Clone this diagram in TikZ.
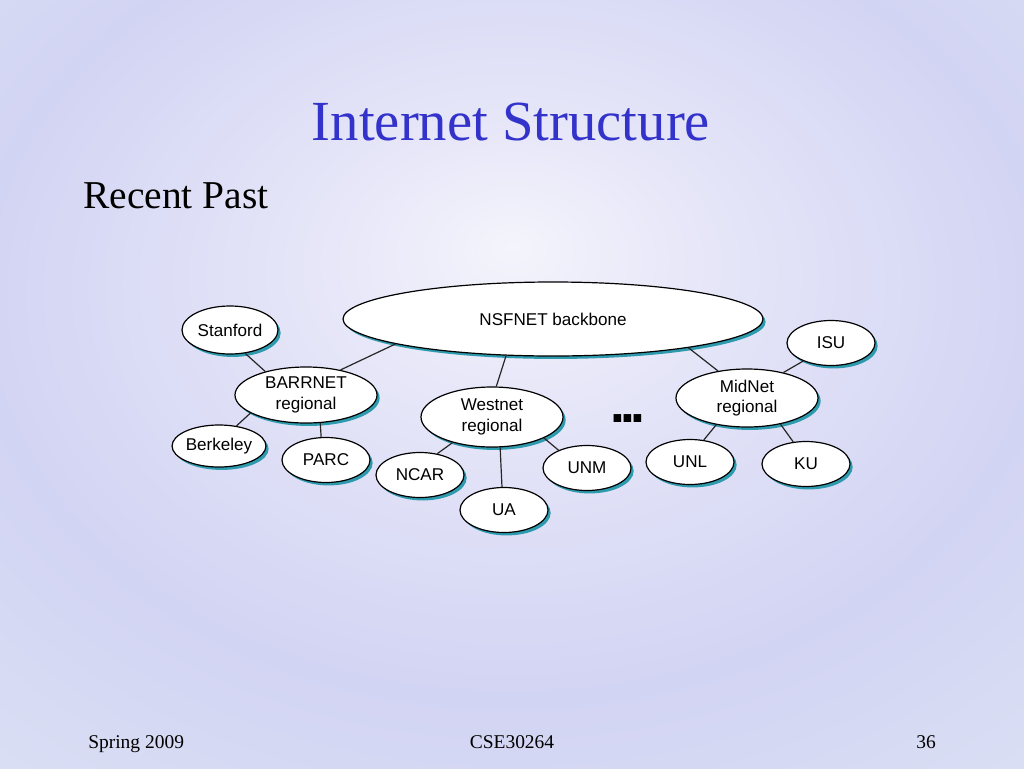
\documentclass[tikz,border=0pt]{standalone}
\usepackage{fontspec}
\setmainfont{Liberation Serif}
\newfontfamily\arialf{Liberation Sans}
\usetikzlibrary{shapes.geometric,shadows}
\definecolor{titleblue}{HTML}{3333CC}
\definecolor{shadowc}{HTML}{2E9AAE}
\definecolor{bgA}{HTML}{F4F4FC}
\definecolor{bgB}{HTML}{E8E8F9}
\definecolor{bgC}{HTML}{D2D4F3}
\definecolor{bgD}{HTML}{DEE4F4}
\definecolor{bgE}{HTML}{EAF6F2}
\pgfdeclareradialshading{slidebg}{\pgfpoint{0bp}{9bp}}{color(0bp)=(bgA); color(8bp)=(bgB); color(26bp)=(bgC); color(45bp)=(bgD); color(68bp)=(bgE)}
\newcommand{\nodefont}{\arialf\fontsize{12.8}{15.5}\selectfont}
\tikzset{
  bub/.style 2 args={ellipse, draw=black, line width=0.9pt, fill=white,
    minimum width={#1*0.75pt}, minimum height={#2*0.75pt}, inner sep=0pt,
    align=center, font=\nodefont,
    drop shadow={shadow xshift=2pt, shadow yshift=-2.2pt, fill=shadowc, opacity=1}},
  edge/.style={line width=0.9pt, draw=black!85},
  footer/.style={font=\fontsize{14.6}{17}\selectfont, text=black}
}
\begin{document}
\begin{tikzpicture}[x=0.75pt,y=-0.75pt]
\useasboundingbox (0,0) rectangle (1024,768);
\shade[shading=slidebg] (0,0) rectangle (1024,768);

\node[anchor=base, text=titleblue, font=\fontsize{42.5}{50}\selectfont] (title) at (511,140) {Internet Structure};
\node[anchor=base west, inner sep=0pt, font=\fontsize{29.6}{35}\selectfont] (sub) at (83,208) {Recent Past};

\node[bub={420}{74}] (nsf) at (553,319) {NSFNET backbone};
\node[bub={96}{48}] (stan) at (230,330) {Stanford};
\node[bub={142}{56}] (barr) at (306,395) {BARRNET\\regional};
\node[bub={90}{42}] (berk) at (219,446) {Berkeley};
\node[bub={88}{45}] (parc) at (326,460) {PARC};
\node[bub={142}{60}] (west) at (492,417) {Westnet\\regional};
\node[bub={88}{45}] (ncar) at (420,475) {NCAR};
\node[bub={88}{45}] (ua) at (504,510) {UA};
\node[bub={88}{45}] (unm) at (587,468) {UNM};
\node[bub={142}{58}] (mid) at (747,398) {MidNet\\regional};
\node[bub={88}{45}] (isu) at (831,343) {ISU};
\node[bub={88}{45}] (unl) at (690,462) {UNL};
\node[bub={88}{45}] (ku) at (806,464) {KU};

\node[anchor=base, font=\arialf\bfseries\fontsize{40}{40}\selectfont, inner sep=0pt] (dots) at (628,422) {.\kern-3.5pt.\kern-3.5pt.};

\draw[edge] (stan.303) -- (barr.150);
\draw[edge] (barr.36) -- (nsf.189);
\draw[edge] (barr.198) -- (berk.49);
\draw[edge] (barr.297) -- (parc.102);
\draw[edge] (nsf.218) -- (west.82);
\draw[edge] (west.213) -- (ncar.51);
\draw[edge] (west.285) -- (ua.95);
\draw[edge] (west.338) -- (unm.148);
\draw[edge] (nsf.348) -- (mid.137);
\draw[edge] (mid.35) -- (isu.213);
\draw[edge] (mid.221) -- (unl.58);
\draw[edge] (mid.322) -- (ku.120);

\node[footer, anchor=base west, inner sep=0pt] (f1) at (88,748) {Spring 2009};
\node[footer, anchor=base, inner sep=0pt] (f2) at (512,748) {CSE30264};
\node[footer, anchor=base east, inner sep=0pt] (f3) at (936,748) {36};
\end{tikzpicture}
\end{document}
